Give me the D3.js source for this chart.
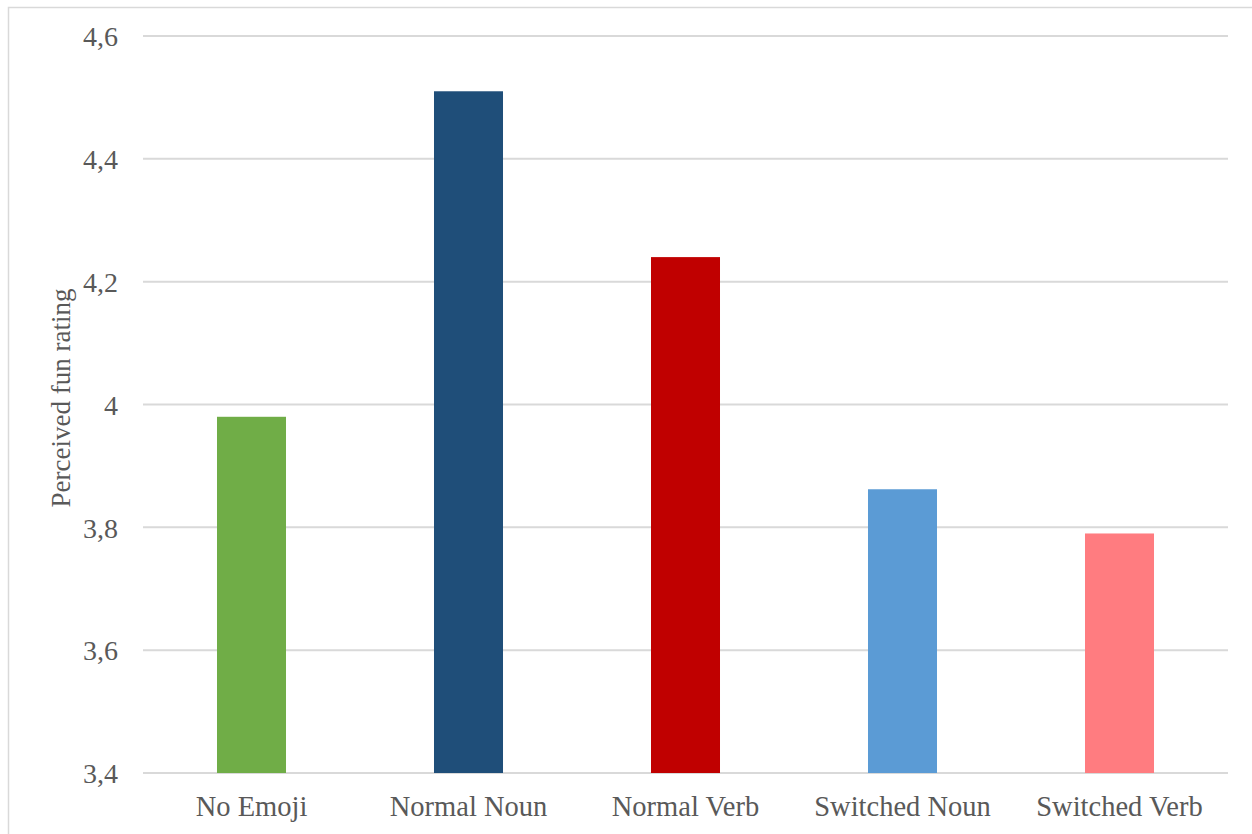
<!DOCTYPE html>
<html>
<head>
<meta charset="utf-8">
<script src="https://cdn.jsdelivr.net/npm/d3@7"></script>
<style>
  body { margin: 0; background: #fff; }
  text { font-family: "Liberation Serif", "Times New Roman", serif; fill: #595959; }
</style>
</head>
<body>
<div class="plot"></div>
<script>
// chart data
const categories = ["No Emoji", "Normal Noun", "Normal Verb", "Switched Noun", "Switched Verb"]
const values = [3.98, 4.51, 4.24, 3.862, 3.79]
const barColors = ["#70ad47", "#1f4e79", "#c00000", "#5b9bd5", "#ff7c80"]
const yTicks = [3.4, 3.6, 3.8, 4.0, 4.2, 4.4, 4.6]
const yTitle = "Perceived fun rating"

let width = 1252, height = 834
let margin = {top: 36, right: 24, bottom: 61, left: 143}

let svg = d3.select(".plot").append("svg")
    .attr("width", width)
    .attr("height", height)

// outer chart border (only left and top are visible in the frame)
svg.append("rect")
    .attr("x", 8.5).attr("y", 7.5)
    .attr("width", width + 20).attr("height", height + 20)
    .attr("fill", "none")
    .attr("stroke", "#d9d9d9")
    .attr("stroke-width", 1.5)

let x = d3.scaleBand()
    .domain(categories)
    .range([margin.left, width - margin.right])
    .paddingInner(0.682)
    .paddingOuter(0.341)

let y = d3.scaleLinear()
    .domain([3.4, 4.6])
    .range([height - margin.bottom, margin.top])

let fmt = d => d3.format("")(+d.toFixed(1)).replace(".", ",")

// gridlines
svg.append("g")
    .selectAll("line")
    .data(yTicks)
    .enter().append("line")
    .attr("x1", margin.left)
    .attr("x2", width - margin.right)
    .attr("y1", d => y(d))
    .attr("y2", d => y(d))
    .attr("stroke", "#d9d9d9")
    .attr("stroke-width", 2)

// y axis labels
let yAxis = d3.axisLeft(y).tickValues(yTicks).tickFormat(fmt).tickSize(0).tickPadding(25)
let gy = svg.append("g")
    .attr("transform", "translate(" + margin.left + ",0)")
    .call(yAxis)
gy.select(".domain").remove()
gy.selectAll("text")
    .style("font-family", "'Liberation Serif', serif")
    .style("font-size", "28px")
    .attr("fill", "#595959")
    .attr("dy", "0.35em")

// bars
svg.append("g")
    .selectAll("rect")
    .data(values)
    .enter().append("rect")
    .attr("x", (d, i) => x(categories[i]))
    .attr("width", x.bandwidth())
    .attr("y", d => y(d))
    .attr("height", d => y(3.4) - y(d))
    .attr("fill", (d, i) => barColors[i])

// x axis labels
let xAxis = d3.axisBottom(x).tickSize(0).tickPadding(23)
let gx = svg.append("g")
    .attr("transform", "translate(0," + (height - margin.bottom) + ")")
    .call(xAxis)
gx.select(".domain").remove()
gx.selectAll("text")
    .style("font-family", "'Liberation Serif', serif")
    .style("font-size", "28.5px")
    .attr("fill", "#595959")

// y axis title
svg.append("text")
    .attr("transform", "translate(70,398) rotate(-90)")
    .attr("text-anchor", "middle")
    .style("font-size", "27px")
    .text(yTitle)
</script>
</body>
</html>
